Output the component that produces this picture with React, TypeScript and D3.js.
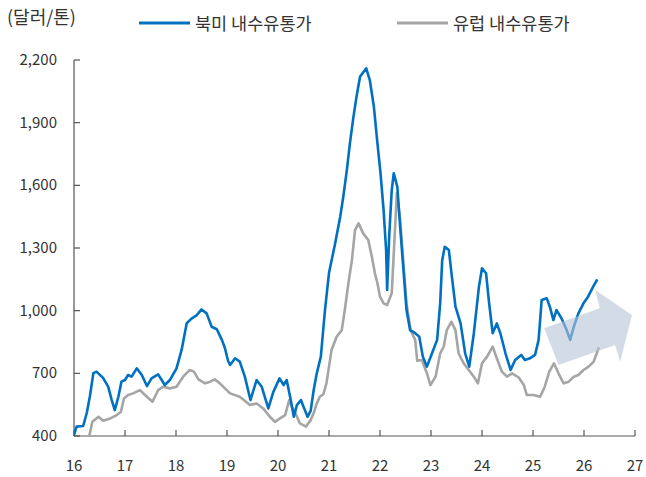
import * as d3 from "d3";

// 북미 / 유럽 내수유통가 (달러/톤), x = 연도(16 = 2016)
const northAmerica: [number, number][] = [
  [16.0, 405], [16.05, 445], [16.18, 448], [16.25, 510], [16.31, 588], [16.38, 701],
  [16.44, 708], [16.57, 678], [16.67, 636], [16.74, 572], [16.8, 524], [16.87, 588],
  [16.93, 660], [17.0, 668], [17.06, 692], [17.13, 684], [17.23, 724], [17.33, 692],
  [17.43, 639], [17.52, 676], [17.65, 695], [17.78, 644], [17.88, 668], [18.01, 724],
  [18.11, 812], [18.21, 940], [18.31, 963], [18.41, 979], [18.5, 1006], [18.6, 987],
  [18.7, 923], [18.8, 911], [18.9, 860], [18.96, 820], [19.02, 760], [19.06, 740],
  [19.16, 772], [19.25, 756], [19.35, 684], [19.46, 572], [19.58, 668], [19.68, 636],
  [19.81, 532], [19.91, 612], [20.03, 676], [20.11, 644], [20.17, 668], [20.25, 572],
  [20.31, 492], [20.37, 548], [20.45, 572], [20.5, 540], [20.58, 492], [20.64, 520],
  [20.7, 620], [20.76, 700], [20.84, 780], [20.92, 1000], [21.0, 1180], [21.12, 1322],
  [21.22, 1450], [21.28, 1545], [21.35, 1673], [21.41, 1801], [21.48, 1929], [21.54, 2025],
  [21.61, 2121], [21.73, 2160], [21.8, 2104], [21.88, 1976], [21.95, 1801], [22.01, 1658],
  [22.07, 1482], [22.12, 1290], [22.14, 1099], [22.18, 1354], [22.23, 1577], [22.27, 1658],
  [22.34, 1593], [22.39, 1418], [22.46, 1195], [22.52, 1003], [22.59, 907], [22.69, 892],
  [22.77, 875], [22.84, 780], [22.92, 732], [23.02, 796], [23.12, 860], [23.18, 1035],
  [23.22, 1243], [23.27, 1306], [23.35, 1290], [23.41, 1162], [23.48, 1019], [23.58, 939],
  [23.67, 796], [23.75, 732], [23.84, 892], [23.94, 1115], [24.0, 1203], [24.08, 1179],
  [24.14, 1035], [24.21, 892], [24.29, 939], [24.36, 892], [24.46, 796], [24.56, 716],
  [24.65, 764], [24.77, 788], [24.84, 764], [24.94, 772], [25.04, 788], [25.11, 860],
  [25.17, 1051], [25.27, 1059], [25.33, 1019], [25.4, 955], [25.46, 1003], [25.56, 963],
  [25.66, 907], [25.73, 860], [25.8, 923], [25.89, 987], [25.99, 1035], [26.08, 1067],
  [26.18, 1115], [26.26, 1150],
];

const europe: [number, number][] = [
  [16.3, 400], [16.36, 468], [16.48, 492], [16.57, 473], [16.71, 484], [16.84, 500],
  [16.92, 516], [16.98, 580], [17.06, 596], [17.16, 604], [17.29, 620], [17.43, 588],
  [17.54, 564], [17.65, 620], [17.75, 636], [17.88, 628], [18.01, 636], [18.14, 684],
  [18.27, 716], [18.35, 708], [18.44, 671], [18.57, 652], [18.67, 660], [18.76, 671],
  [18.86, 652], [18.96, 628], [19.06, 604], [19.25, 588], [19.45, 548], [19.58, 556],
  [19.71, 532], [19.84, 492], [19.94, 468], [20.04, 484], [20.14, 500], [20.22, 572],
  [20.27, 540], [20.33, 516], [20.43, 460], [20.55, 445], [20.64, 476], [20.7, 510],
  [20.76, 556], [20.82, 588], [20.89, 600], [20.95, 652], [21.05, 812], [21.15, 875],
  [21.25, 907], [21.31, 1003], [21.38, 1131], [21.45, 1243], [21.51, 1386], [21.58, 1418],
  [21.67, 1370], [21.77, 1338], [21.84, 1258], [21.9, 1179], [21.95, 1131], [22.0, 1067],
  [22.07, 1035], [22.14, 1027], [22.23, 1083], [22.28, 1322], [22.33, 1562], [22.39, 1450],
  [22.46, 1227], [22.52, 1035], [22.6, 907], [22.69, 860], [22.73, 760], [22.82, 764],
  [22.92, 700], [22.99, 644], [23.09, 684], [23.18, 796], [23.25, 828], [23.31, 907],
  [23.4, 947], [23.48, 907], [23.54, 796], [23.64, 748], [23.74, 716], [23.84, 684],
  [23.92, 652], [24.0, 748], [24.1, 780], [24.21, 828], [24.29, 772], [24.39, 708],
  [24.49, 684], [24.59, 700], [24.72, 680], [24.82, 644], [24.88, 596], [25.01, 596],
  [25.14, 588], [25.23, 636], [25.32, 708], [25.41, 748], [25.5, 700], [25.6, 652],
  [25.7, 660], [25.8, 684], [25.89, 692], [25.99, 716], [26.09, 732], [26.19, 756],
  [26.25, 796], [26.29, 825],
];

const yTicks = [400, 700, 1000, 1300, 1600, 1900, 2200];
const xTicks = [16, 17, 18, 19, 20, 21, 22, 23, 24, 25, 26, 27];

// 상승 화살표 (연도, 값)
const arrowShape: [number, number][] = [
  [25.22, 916], [26.31, 1011], [26.22, 1099], [26.94, 979], [26.71, 756],
  [26.61, 836], [25.5, 740],
];

const series = [
  { name: "북미 내수유통가", data: northAmerica, color: "#0070c0" },
  { name: "유럽 내수유통가", data: europe, color: "#a5a5a5" },
];

const FONT = "'Noto Sans CJK KR', 'Noto Sans', sans-serif";

export default function App() {
  const width = 646;
  const height = 477;
  const margin = { top: 60, right: 11, bottom: 41, left: 74 };

  const x = d3.scaleLinear().domain([16, 27]).range([margin.left, width - margin.right]);
  const y = d3.scaleLinear().domain([400, 2200]).range([height - margin.bottom, margin.top]);

  const line = d3
    .line<[number, number]>()
    .x((d) => x(d[0]))
    .y((d) => y(d[1]));

  const arrow = d3
    .line<[number, number]>()
    .x((d) => x(d[0]))
    .y((d) => y(d[1]))
    .curve(d3.curveLinearClosed);

  const x0 = margin.left;
  const yBase = y(400);

  return (
    <svg
      width={width}
      height={height}
      style={{ position: "absolute", left: 0, top: 0, background: "#fff" }}
      fontFamily={FONT}
    >
      <defs>
        <clipPath id="plot">
          <rect x={x0} y={margin.top - 10} width={width - x0} height={yBase - margin.top + 10} />
        </clipPath>
      </defs>

      {/* unit */}
      <text x={7} y={24} fontSize={18} fill="#333">(달러/톤)</text>

      {/* legend */}
      {series.map((s, i) => {
        const lx = i === 0 ? 139 : 397;
        return (
          <g key={s.name}>
            <line x1={lx} x2={lx + 51} y1={23} y2={23} stroke={s.color} strokeWidth={3} />
            <text x={lx + 56} y={29.5} fontSize={17.5} fill="#333">{s.name}</text>
          </g>
        );
      })}

      {/* y axis */}
      <line x1={x0} x2={x0} y1={y(2200)} y2={yBase} stroke="#555" strokeWidth={1.2} />
      {yTicks.map((t) => (
        <g key={t}>
          <line x1={x0} x2={x0 + 6} y1={y(t)} y2={y(t)} stroke="#555" strokeWidth={1.2} />
          <text x={57} y={y(t) + 5} textAnchor="end" fontSize={15} fill="#333">
            {d3.format(",")(t)}
          </text>
        </g>
      ))}

      {/* x axis */}
      <line x1={x0} x2={x(27)} y1={yBase} y2={yBase} stroke="#555" strokeWidth={1.2} />
      {xTicks.map((t) => (
        <g key={t}>
          <line x1={x(t)} x2={x(t)} y1={yBase} y2={yBase - 6} stroke="#555" strokeWidth={1.2} />
          <text x={x(t)} y={471} textAnchor="middle" fontSize={15} fill="#333">{t}</text>
        </g>
      ))}

      {/* series */}
      <g clipPath="url(#plot)">
        {series
          .slice()
          .reverse()
          .map((s) => (
            <path
              key={s.name}
              d={line(s.data) ?? ""}
              fill="none"
              stroke={s.color}
              strokeWidth={2.6}
              strokeLinejoin="round"
            />
          ))}
      </g>

      {/* arrow */}
      <path d={arrow(arrowShape) ?? ""} fill="#b4c3d6" fillOpacity={0.6} />
    </svg>
  );
}
